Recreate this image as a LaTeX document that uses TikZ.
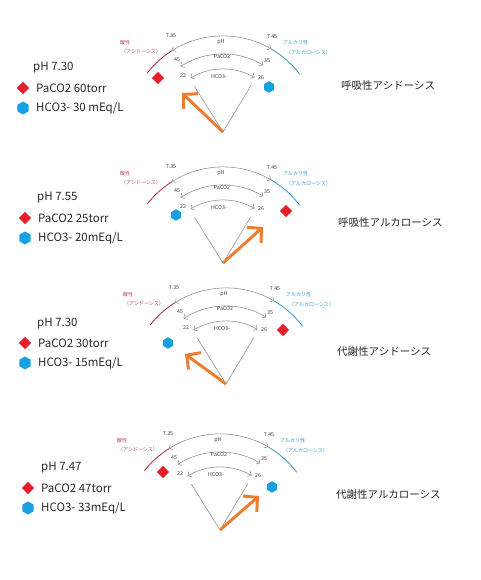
\documentclass[tikz,border=0pt]{standalone}
\usepackage{fontspec}
\setmainfont{Noto Sans CJK JP}
\usetikzlibrary{arrows.meta,shapes.geometric}

% one fan of pH / PaCO2 / HCO3- scales, apex at (0,0)
\newcommand\acidfan[1]{%
  \coordinate (apex#1) at (0,0);
  \coordinate (fanl#1) at (122:54);
  \coordinate (fanr#1) at (59:54);
  % Drawing arc acid side
  \draw[acidarc] (142:96) arc[start angle=142,end angle=122,radius=96];
  % Drawing arc pH
  \draw[fanarc] (122:96) arc[start angle=122,end angle=60,radius=96];
  % Drawing arc alkaline side
  \draw[alkarc] (60:96) arc[start angle=60,end angle=37,radius=96];
  % Drawing arc PaCO2
  \draw[fanarc] (123:78) arc[start angle=123,end angle=59,radius=78];
  % Drawing arc HCO3-
  \draw[fanarc] (121:63) arc[start angle=121,end angle=60,radius=63];
  % Drawing sides of the fan
  \draw[fanline] (apex#1) -- (fanl#1);
  \draw[fanline] (apex#1) -- (fanr#1);
  % Labels
  \node[numlabel] (phlo#1) at (-52,96) {7.35};
  \node[numlabel] (phhi#1) at (49,95) {7.45};
  \node[numlabel] (ph#1) at (-2,90) {pH};
  \node[numlabel] (paco#1) at (-46,72) {45};
  \node[numlabel] (paclo#1) at (44,71) {35};
  \node[numlabel] (pacname#1) at (-1,75) {PaCO2};
  \node[numlabel] (hcolo#1) at (-40,56) {22};
  \node[numlabel] (hcohi#1) at (38,54) {26};
  \node[numlabel] (hconame#1) at (-4,55) {HCO3-};
  \node[acidlabel] (acid#1) at (-103,89) {酸性};
  \node[acidlabel] (acidk#1) at (-102,80) {（アシドーシス）};
  \node[alklabel] (alk#1) at (60,89) {アルカリ性};
  \node[alklabel] (alkk#1) at (63,79) {（アルカローシス）};
}

\begin{document}
\begin{tikzpicture}[x=1pt,y=1pt,
  fanarc/.style={draw=r140g140b140,line width=0.55pt,
    {Straight Barb[length=2.8pt,width=6pt]}-{Straight Barb[length=2.8pt,width=6pt]}},
  fanline/.style={draw=r140g140b140,line width=0.55pt},
  acidarc/.style={draw=r165g45b65,line width=0.8pt},
  alkarc/.style={draw=r55g150b200,line width=0.8pt},
  numlabel/.style={font=\fontsize{5.3}{6}\selectfont,text=r60g60b60,inner sep=0pt},
  acidlabel/.style={font=\fontsize{5}{6}\selectfont,text=r180g70b90,inner sep=0pt,anchor=west},
  alklabel/.style={font=\fontsize{5}{6}\selectfont,text=r55g150b200,inner sep=0pt,anchor=west},
  shiftarrow/.style={draw=r237g125b49,line width=3pt,-{Straight Barb[length=10pt,width=21pt]}},
  pacomark/.style={diamond,fill=r230g30b40,inner sep=0pt,minimum size=12.5pt},
  hcomark/.style={regular polygon,regular polygon sides=6,shape border rotate=30,
    fill=r20g160b225,inner sep=0pt,minimum size=11.5pt},
  legendtext/.style={font=\fontsize{11.5}{13}\selectfont,text=r40g40b40,anchor=west,inner sep=0pt},
  diagnosis/.style={font=\fontsize{10.5}{12}\selectfont,text=r40g40b40,anchor=west,inner sep=0pt}
]
% Changing colors
\definecolor{r140g140b140}{rgb}{0.549020,0.549020,0.549020}%
\definecolor{r165g45b65}{rgb}{0.647059,0.176471,0.254902}%
\definecolor{r55g150b200}{rgb}{0.215686,0.588235,0.784314}%
\definecolor{r60g60b60}{rgb}{0.235294,0.235294,0.235294}%
\definecolor{r180g70b90}{rgb}{0.705882,0.274510,0.352941}%
\definecolor{r237g125b49}{rgb}{0.929412,0.490196,0.192157}%
\definecolor{r230g30b40}{rgb}{0.901961,0.117647,0.156863}%
\definecolor{r20g160b225}{rgb}{0.078431,0.627451,0.882353}%
\definecolor{r40g40b40}{rgb}{0.156863,0.156863,0.156863}%

\useasboundingbox (0,0) rectangle (480,580);

% Panel 1: respiratory acidosis
\begin{scope}[shift={(223,448)}]
  \acidfan{1}
  \node[pacomark] (pmark1) at (-65,54) {};
  \node[hcomark] (hmark1) at (46,45) {};
  \coordinate (tip1) at (-41,39);
  \draw[shiftarrow] (apex1) -- (tip1);
\end{scope}
\node[legendtext] (phval1) at (33,512) {pH 7.30};
\node[pacomark] (pleg1) at (23,492) {};
\node[legendtext] (pval1) at (36,492) {PaCO2 60torr};
\node[hcomark,minimum size=13pt] (hleg1) at (23,472) {};
\node[legendtext] (hval1) at (36,472) {HCO3- 30 mEq/L};
\node[diagnosis] (diag1) at (341,494) {呼吸性アシドーシス};

% Panel 2: respiratory alkalosis
\begin{scope}[shift={(223,317)}]
  \acidfan{2}
  \node[hcomark] (hmark2) at (-47,48) {};
  \node[pacomark] (pmark2) at (63,52) {};
  \coordinate (tip2) at (40,36);
  \draw[shiftarrow] (apex2) -- (tip2);
\end{scope}
\node[legendtext] (phval2) at (37,382) {pH 7.55};
\node[pacomark] (pleg2) at (25,362) {};
\node[legendtext] (pval2) at (38,362) {PaCO2 25torr};
\node[hcomark,minimum size=13pt] (hleg2) at (25,342) {};
\node[legendtext] (hval2) at (38,342) {HCO3- 20mEq/L};
\node[diagnosis] (diag2) at (338,357) {呼吸性アルカローシス};

% Panel 3: metabolic acidosis
\begin{scope}[shift={(226,196)}]
  \acidfan{3}
  \node[hcomark] (hmark3) at (-58,41) {};
  \node[pacomark] (pmark3) at (57,54) {};
  \coordinate (tip3) at (-41,30);
  \draw[shiftarrow] (apex3) -- (tip3);
\end{scope}
\node[legendtext] (phval3) at (37,256) {pH 7.30};
\node[pacomark] (pleg3) at (25,237) {};
\node[legendtext] (pval3) at (38,237) {PaCO2 30torr};
\node[hcomark,minimum size=13pt] (hleg3) at (25,217) {};
\node[legendtext] (hval3) at (38,217) {HCO3- 15mEq/L};
\node[diagnosis] (diag3) at (337,228) {代謝性アシドーシス};

% Panel 4: metabolic alkalosis
\begin{scope}[shift={(220,50)}]
  \acidfan{4}
  \node[pacomark] (pmark4) at (-57,58) {};
  \node[hcomark] (hmark4) at (52,43) {};
  \coordinate (tip4) at (39,34);
  \draw[shiftarrow] (apex4) -- (tip4);
\end{scope}
\node[legendtext] (phval4) at (41,112) {pH 7.47};
\node[pacomark] (pleg4) at (28,92) {};
\node[legendtext] (pval4) at (41,92) {PaCO2 47torr};
\node[hcomark,minimum size=13pt] (hleg4) at (28,72) {};
\node[legendtext] (hval4) at (41,72) {HCO3- 33mEq/L};
\node[diagnosis] (diag4) at (336,85) {代謝性アルカローシス};
\end{tikzpicture}
\end{document}
